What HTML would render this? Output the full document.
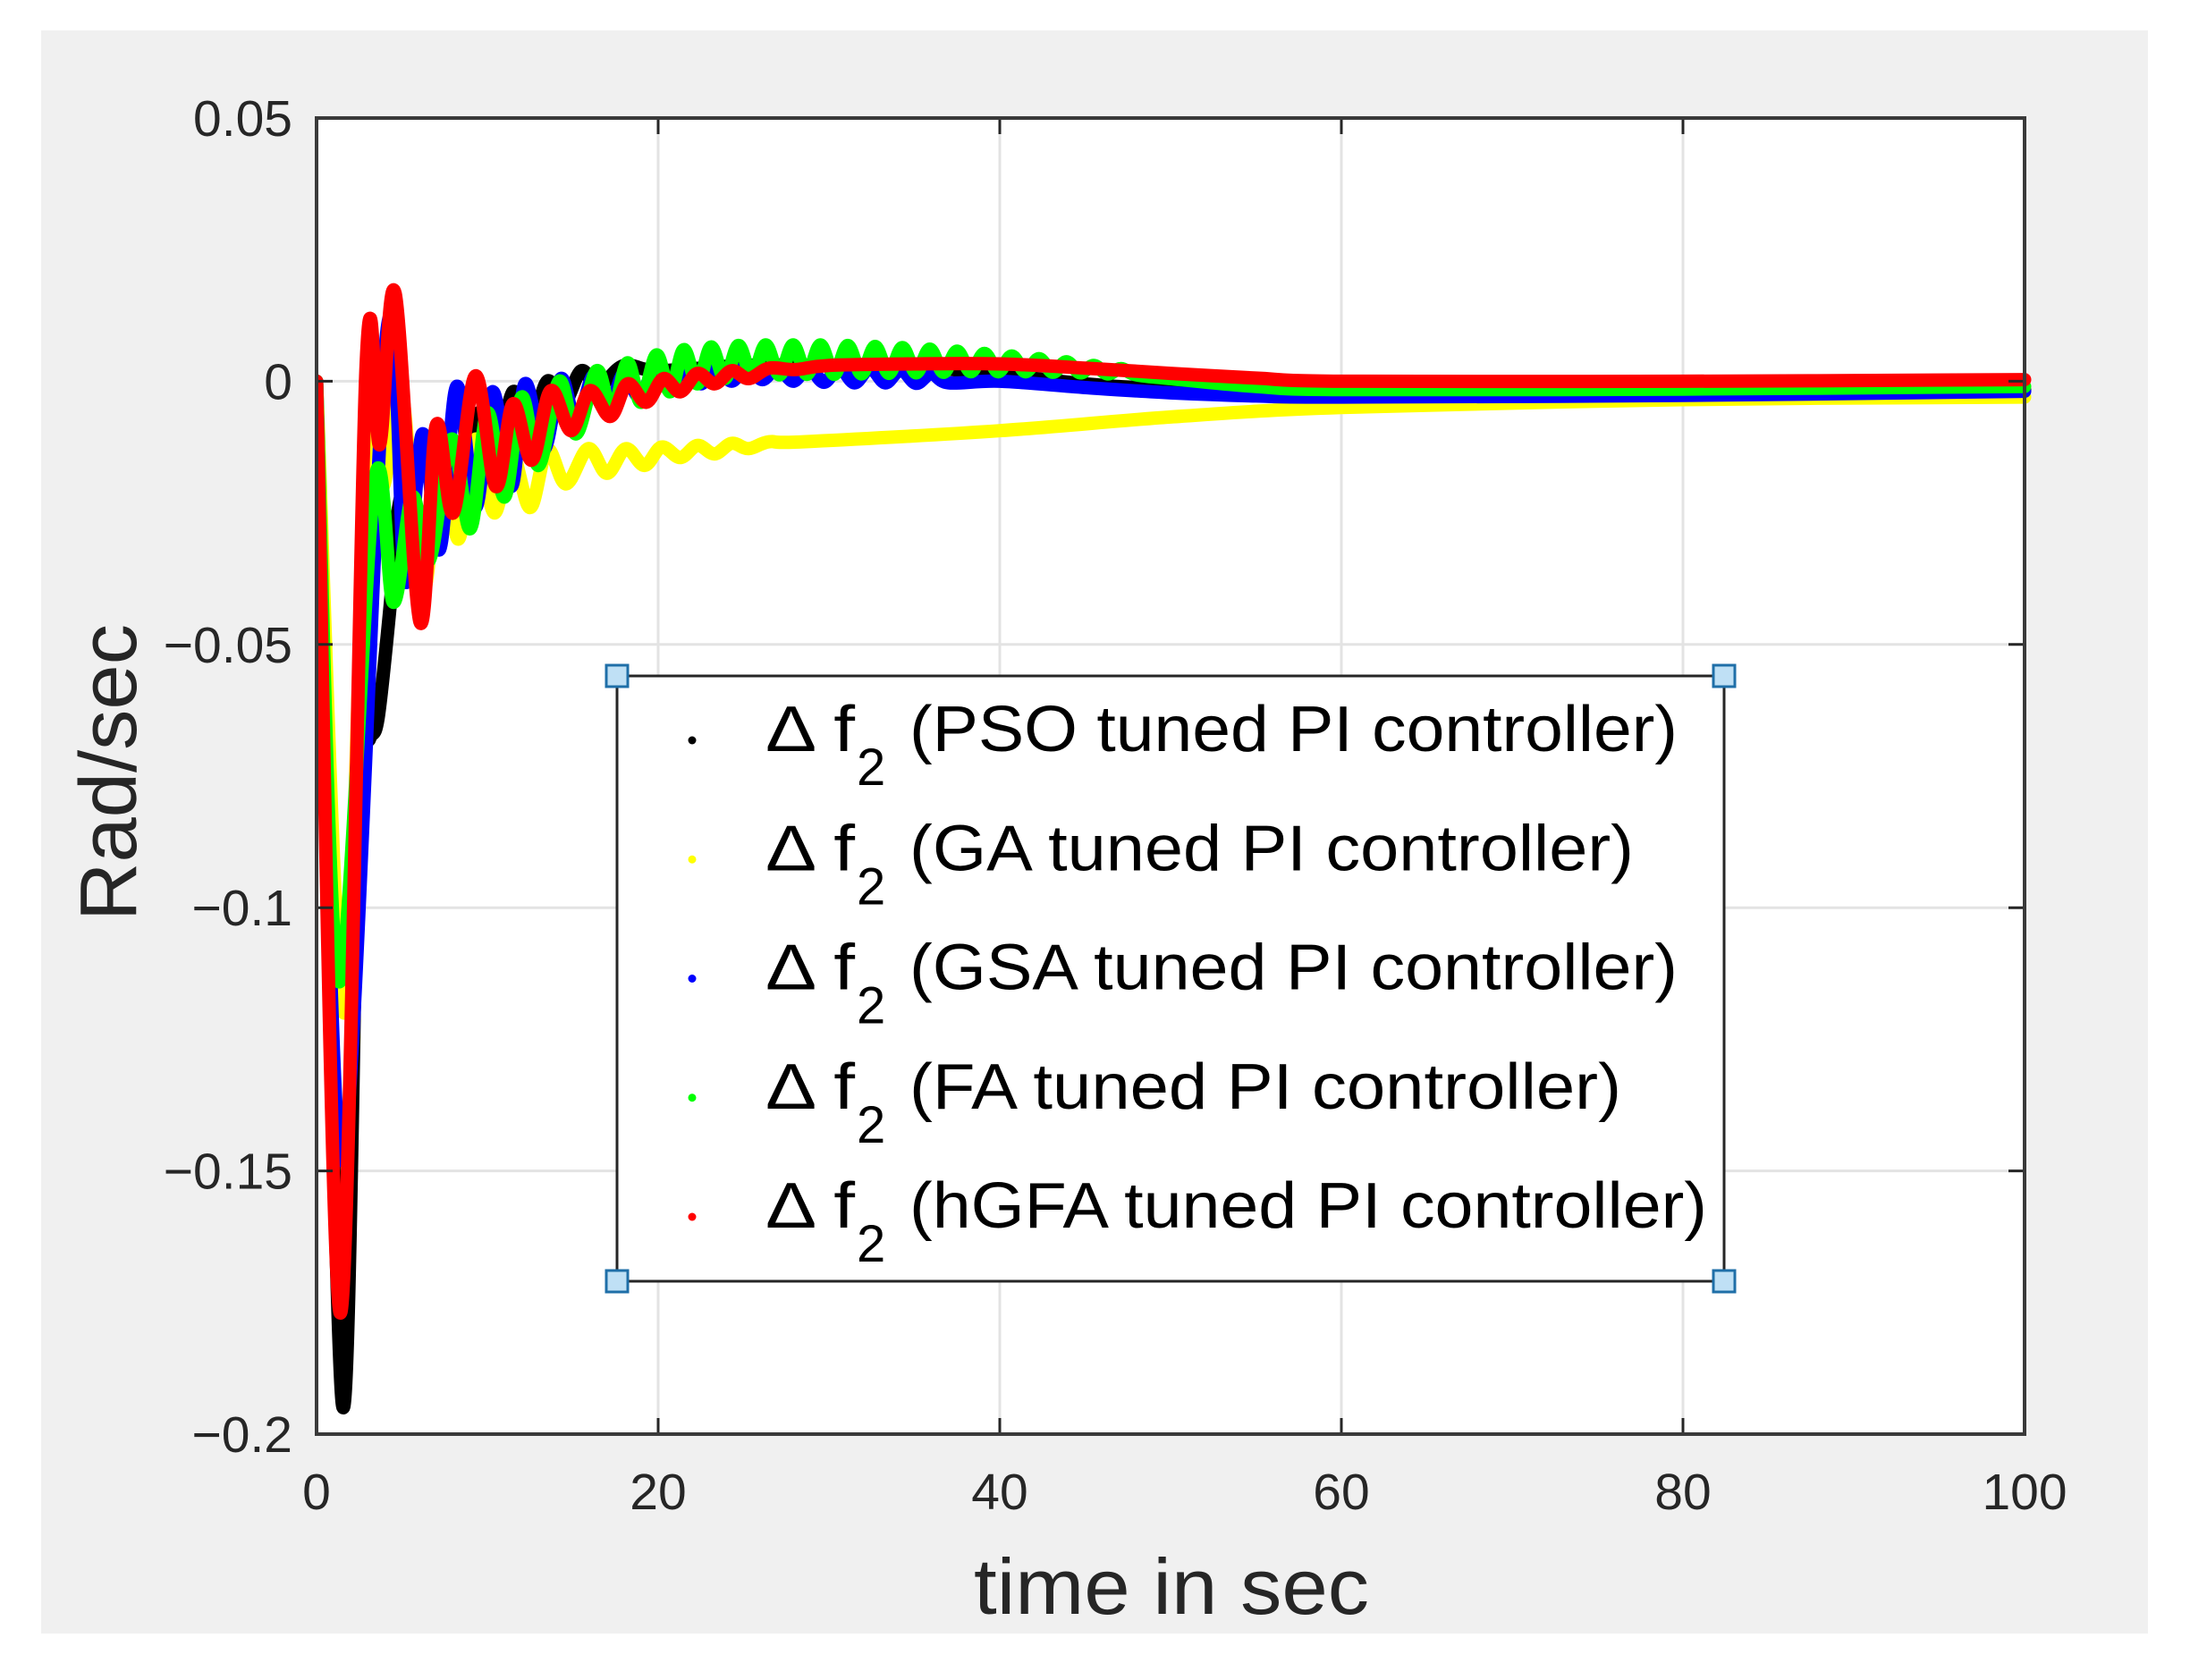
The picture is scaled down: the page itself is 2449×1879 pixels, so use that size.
<!DOCTYPE html>
<html><head><meta charset="utf-8"><style>
html,body{margin:0;padding:0;background:#fff;}
svg{display:block;font-family:"Liberation Sans",Arial,sans-serif;}
</style></head><body>
<svg id="chart" width="2449" height="1879" viewBox="0 0 2449 1879" xmlns="http://www.w3.org/2000/svg">
<rect x="0" y="0" width="2449" height="1879" fill="#ffffff"/>
<rect x="46" y="34" width="2356" height="1793" fill="#f0f0f0"/>
<rect x="354" y="132" width="1910" height="1472" fill="#ffffff"/>
<g id="grid"></g>
<g id="series"></g>
<g id="axes"></g>
<g id="legend"></g>
<text x="1310" y="1805" font-size="88" text-anchor="middle" textLength="442" lengthAdjust="spacingAndGlyphs" fill="#262626">time in sec</text>
<text transform="translate(152,864) rotate(-90)" font-size="90" text-anchor="middle" textLength="332" lengthAdjust="spacingAndGlyphs" fill="#262626">Rad/sec</text>
</svg>
<script>
const xTicks = [0, 20, 40, 60, 80, 100];
const xTickLabels = ["0", "20", "40", "60", "80", "100"];
const yTicks = [0.05, 0, -0.05, -0.1, -0.15, -0.2];
const yTickLabels = ["0.05", "0", "\u22120.05", "\u22120.1", "\u22120.15", "\u22120.2"];
const seriesNames = ["PSO", "GA", "GSA", "FA", "hGFA"];
const seriesColors = ["#000000", "#ffff00", "#0000ff", "#00ff00", "#ff0000"];

const psoT = [0,1.5,2.5,3.1,3.6,4.3,4.8,5.5,6.5,7.5,8.5,9.5,10.5,11.5,12.5,13.5,14.5,15.5,16.5,18,20,25,30,35,40,45,50,60,80,100];
const psoV = [0,-0.194,-0.075,-0.068,-0.064,-0.043,-0.024,-0.02,-0.03,-0.012,-0.022,-0.006,-0.015,-0.002,-0.009,0.0,-0.004,0.002,-0.001,0.003,0.002,0.003,0.003,0.0028,0.0013,-0.0005,-0.0015,-0.0025,-0.0025,-0.0017];

const gaT = [0,1.6,3.0,3.9,4.9,6.2,7.3,8.3,9.3,10.4,11.4,12.5,13.5,14.6,15.9,17.0,18.1,19.2,20.2,21.3,22.3,23.3,24.3,25.3,26.5,28.5,40,50,60,80,100];
const gaV = [0,-0.12,-0.005,-0.02,0.0,-0.04,-0.012,-0.03,-0.011,-0.025,-0.0135,-0.024,-0.013,-0.0195,-0.0128,-0.0175,-0.0128,-0.016,-0.0125,-0.0145,-0.0122,-0.0138,-0.0118,-0.0128,-0.0115,-0.0115,-0.0094,-0.0068,-0.005,-0.0035,-0.003];

const gsaT = [0,1.5,4.1,5.2,6.2,7.2,8.2,9.3,10.3,11.4,12.2,13.3,14.3,15.2,16.2,17.1,18.0,18.9,19.8,20.7,21.6,22.5,23.4,24.3,25.2,26.1,27,27.9,28.8,29.7,30.6,31.5,32.4,33.3,34.2,35.1,36,37,40,45,50,55,60,80,100];
const gsaV = [0,-0.148,0.009,-0.038,-0.010,-0.032,-0.001,-0.024,-0.002,-0.02,-0.0005,-0.013,0.0005,-0.008,0.001,-0.005,0.0015,-0.003,0.002,-0.0015,0.0025,-0.0005,0.003,0.0,0.003,0.0003,0.0028,0.0,0.0027,-0.0002,0.0026,-0.0003,0.0025,-0.0003,0.0022,-0.0004,0.0015,-0.0003,0.0,-0.0012,-0.0022,-0.0028,-0.003,-0.0027,-0.0019];

const faT = [0,1.3,3.4,4.5,5.6,6.6,7.9,9.0,10.0,11.0,12.0,13.0,14.2,15.2,16.4,17.3,18.2,19.0,19.9,20.7,21.5,22.3,23.1,23.9,24.7,25.5,26.3,27.1,27.9,28.7,29.5,30.3,31.1,31.9,32.7,33.5,34.3,35.1,35.9,36.7,37.5,38.3,39.1,39.9,40.7,41.5,42.3,43.1,43.9,44.7,45.5,46.3,47.1,48,50,55,60,80,100];
const faV = [0,-0.114,-0.019,-0.042,-0.022,-0.034,-0.011,-0.028,-0.006,-0.022,-0.003,-0.016,0.0,-0.010,0.002,-0.006,0.0035,-0.004,0.005,-0.002,0.006,-0.0005,0.0065,0.0005,0.0068,0.001,0.0069,0.0012,0.0069,0.0013,0.0069,0.0013,0.0068,0.0014,0.0066,0.0015,0.0064,0.0016,0.0061,0.0017,0.0057,0.0018,0.0053,0.0018,0.0048,0.0018,0.0043,0.0017,0.0037,0.0016,0.003,0.0014,0.0024,0.0012,0.0005,-0.001,-0.0016,-0.0015,-0.001];

const hgfaT = [0,1.4,2.9,3.7,4.6,6.05,7.0,8.0,9.3,10.5,11.5,12.6,13.7,14.9,16.0,17.2,18.2,19.3,20.3,21.3,22.3,23.3,24.3,25.3,26.5,28,30,35,40,45,50,55,60,80,100];
const hgfaV = [0,-0.177,0.003,-0.012,0.0167,-0.0457,-0.0084,-0.025,0.001,-0.020,-0.0043,-0.015,-0.0018,-0.0094,-0.0018,-0.0067,-0.0005,-0.004,0.0005,-0.002,0.0015,-0.0005,0.002,0.0005,0.0025,0.0022,0.003,0.0033,0.0033,0.0025,0.0015,0.0006,0.0,0.0,0.0003];

const NS = "http://www.w3.org/2000/svg";
const X0 = 354, X1 = 2264, Y0 = 132, Y1 = 1604;
function xScale(t){ return X0 + (t - 0) / 100 * (X1 - X0); }
function yScale(v){ return Y1 - (v - (-0.2)) / 0.25 * (Y1 - Y0); }
function mk(tag, attrs){ const e = document.createElementNS(NS, tag); for (const k in attrs) e.setAttribute(k, attrs[k]); return e; }

const grid = document.getElementById('grid');
const axes = document.getElementById('axes');
xTicks.forEach((t, i) => {
  const x = xScale(t);
  if (i > 0 && i < xTicks.length - 1) {
    const g = mk('line', {x1:x, y1:Y0, x2:x, y2:Y1, stroke:'#e3e3e3', 'stroke-width':3});
    
    
    grid.appendChild(g);
  }
  const tk1 = mk('line', {x1:x, y1:Y1, x2:x, y2:Y1-18, stroke:'#262626', 'stroke-width':3});
  
  
  axes.appendChild(tk1);
  const tk2 = mk('line', {x1:x, y1:Y0, x2:x, y2:Y0+18, stroke:'#262626', 'stroke-width':3});
  
  
  axes.appendChild(tk2);
  const lb = mk('text', {x:x, y:1688, 'font-size':57, 'text-anchor':'middle', fill:'#262626'});
  lb.textContent = xTickLabels[i];
  
  
  axes.appendChild(lb);
});
yTicks.forEach((v, i) => {
  const y = yScale(v);
  if (i > 0 && i < yTicks.length - 1) {
    const g = mk('line', {x1:X0, y1:y, x2:X1, y2:y, stroke:'#e3e3e3', 'stroke-width':3});
    
    
    grid.appendChild(g);
  }
  const tk1 = mk('line', {x1:X0, y1:y, x2:X0+18, y2:y, stroke:'#262626', 'stroke-width':3});
  
  
  axes.appendChild(tk1);
  const tk2 = mk('line', {x1:X1, y1:y, x2:X1-18, y2:y, stroke:'#262626', 'stroke-width':3});
  
  
  axes.appendChild(tk2);
  const lb = mk('text', {x:327, y:y+20, 'font-size':57, 'text-anchor':'end', fill:'#262626'});
  lb.textContent = yTickLabels[i];
  
  
  axes.appendChild(lb);
});
const box = mk('rect', {x:X0, y:Y0, width:X1-X0, height:Y1-Y0, fill:'none', stroke:'#3a3a3a', 'stroke-width':4});


axes.appendChild(box);

const defs = mk('defs', {});
const cp = mk('clipPath', {id:'plotclip'});
cp.appendChild(mk('rect', {x:X0, y:Y0-20, width:X1-X0+12, height:Y1-Y0+40}));
defs.appendChild(cp);
document.getElementById('chart').insertBefore(defs, document.getElementById('chart').firstChild);

function pathFor(ts, vs){
  const p = ts.map((t, i) => [xScale(t), yScale(vs[i])]);
  let d = 'M' + p[0][0].toFixed(1) + ' ' + p[0][1].toFixed(1);
  for (let i = 0; i < p.length - 1; i++) {
    const a = p[Math.max(0, i-1)], b = p[i], c = p[i+1], e = p[Math.min(p.length-1, i+2)];
    const c1x = b[0] + (c[0]-a[0])/6, c1y = b[1] + (c[1]-a[1])/6;
    const c2x = c[0] - (e[0]-b[0])/6, c2y = c[1] - (e[1]-b[1])/6;
    d += ' C' + c1x.toFixed(1)+' '+c1y.toFixed(1)+' '+c2x.toFixed(1)+' '+c2y.toFixed(1)+' '+c[0].toFixed(1)+' '+c[1].toFixed(1);
  }
  return d;
}
const seriesG = document.getElementById('series');
seriesG.setAttribute('clip-path', 'url(#plotclip)');
const allT = [psoT, gaT, gsaT, faT, hgfaT];
const allV = [psoV, gaV, gsaV, faV, hgfaV];
const sNames = ['line-pso', 'line-ga', 'line-gsa', 'line-fa', 'line-hgfa'];
allT.forEach((ts, i) => {
  const el = mk('path', {d:pathFor(ts, allV[i]), fill:'none', stroke:seriesColors[i], 'stroke-width':15, 'stroke-linejoin':'round', 'stroke-linecap':'round'});
  
  
  seriesG.appendChild(el);
});

const lg = document.getElementById('legend');
const lbox = mk('rect', {x:690, y:756, width:1238, height:677, fill:'#ffffff', stroke:'#262626', 'stroke-width':3});


lg.appendChild(lbox);
const ends = [1876, 1827, 1876, 1813, 1909];
seriesNames.forEach((n, i) => {
  const by = 840 + i * 133.25;
  const dot = mk('circle', {cx:774, cy:by-12, r:4.5, fill:seriesColors[i]});
  
  
  lg.appendChild(dot);
  const t1 = mk('text', {x:856, y:by, 'font-size':72, fill:'#000', textLength:100, lengthAdjust:'spacingAndGlyphs'});
  t1.textContent = '\u0394 f';
  
  
  lg.appendChild(t1);
  const t2 = mk('text', {x:958, y:by+38, 'font-size':58, fill:'#000'});
  t2.textContent = '2';
  
  
  lg.appendChild(t2);
  const t3 = mk('text', {x:1017, y:by, 'font-size':72, fill:'#000', textLength:(ends[i]-1017), lengthAdjust:'spacingAndGlyphs'});
  t3.textContent = '(' + n + ' tuned PI controller)';
  
  
  lg.appendChild(t3);
});
[[690,756],[1928,756],[690,1433],[1928,1433]].forEach(c => {
  const h = mk('rect', {x:c[0]-12, y:c[1]-12, width:24, height:24, fill:'#bfe0f5', stroke:'#1f6fa8', 'stroke-width':3});
  
  
  lg.appendChild(h);
});
</script>
</body></html>
